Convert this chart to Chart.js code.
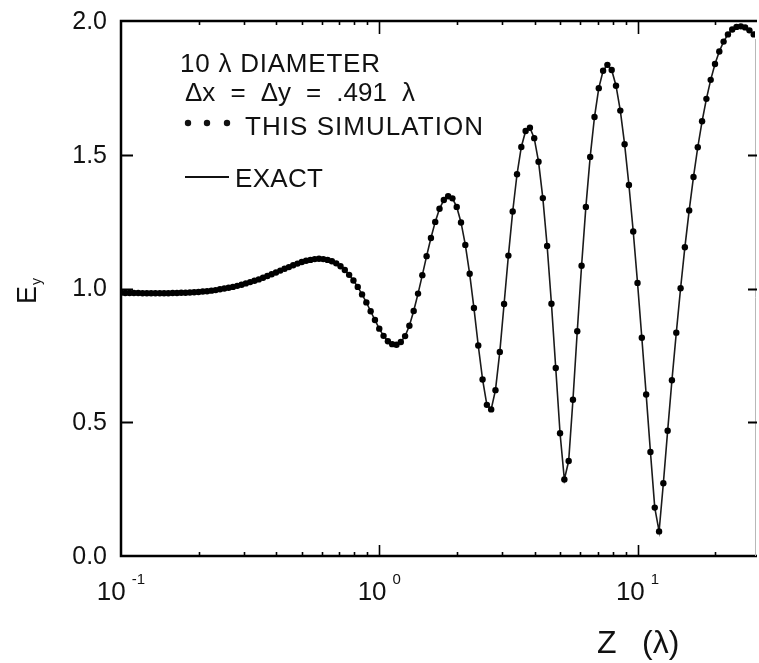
<!DOCTYPE html>
<html>
<head>
<meta charset="utf-8">
<script src="https://cdn.jsdelivr.net/npm/chart.js@4.4.1/dist/chart.umd.min.js"></script>
<style>
  html, body { margin: 0; padding: 0; background: #fff; }
  canvas { display: block; }
</style>
</head>
<body>
<canvas id="ey_canvas" width="759" height="663" style="width:759px;height:663px"></canvas>
<script>
// distance along the axis, Z (in wavelengths), one array per decade
const zTenths = [0.1000, 0.1039, 0.1080, 0.1122, 0.1166, 0.1212, 0.1259, 0.1308, 0.1359, 0.1413,
  0.1468, 0.1525, 0.1585, 0.1647, 0.1711, 0.1778, 0.1848, 0.1920, 0.1995, 0.2073,
  0.2154, 0.2239, 0.2326, 0.2417, 0.2512, 0.2610, 0.2712, 0.2818, 0.2929, 0.3043,
  0.3162, 0.3286, 0.3415, 0.3548, 0.3687, 0.3831, 0.3981, 0.4137, 0.4299, 0.4467,
  0.4642, 0.4823, 0.5012, 0.5208, 0.5412, 0.5623, 0.5843, 0.6072, 0.6310, 0.6556,
  0.6813, 0.7079, 0.7356, 0.7644, 0.7943, 0.8254, 0.8577, 0.8913, 0.9261, 0.9624];
const zUnits = [1.000, 1.039, 1.080, 1.122, 1.166, 1.212, 1.259, 1.308, 1.359, 1.413,
  1.468, 1.525, 1.585, 1.647, 1.711, 1.778, 1.848, 1.920, 1.995, 2.073,
  2.154, 2.239, 2.326, 2.417, 2.512, 2.610, 2.712, 2.818, 2.929, 3.043,
  3.162, 3.286, 3.415, 3.548, 3.687, 3.831, 3.981, 4.137, 4.299, 4.467,
  4.642, 4.823, 5.012, 5.208, 5.412, 5.623, 5.843, 6.072, 6.310, 6.556,
  6.813, 7.079, 7.356, 7.644, 7.943, 8.254, 8.577, 8.913, 9.261, 9.624];
const zTens = [10.00, 10.39, 10.80, 11.22, 11.66, 12.12, 12.59, 13.08, 13.59, 14.13,
  14.68, 15.25, 15.85, 16.47, 17.11, 17.78, 18.48, 19.20, 19.95, 20.73,
  21.54, 22.39, 23.26, 24.17, 25.12, 26.10, 27.12, 28.18];

// on-axis field Ey at those distances
const eyTenths = [0.984, 0.983, 0.983, 0.983, 0.983, 0.982, 0.982, 0.982, 0.982, 0.982,
  0.982, 0.982, 0.983, 0.983, 0.984, 0.984, 0.985, 0.986, 0.987, 0.989,
  0.990, 0.992, 0.994, 0.997, 1.000, 1.003, 1.006, 1.010, 1.014, 1.019,
  1.024, 1.029, 1.034, 1.040, 1.047, 1.053, 1.060, 1.067, 1.074, 1.080,
  1.087, 1.093, 1.099, 1.104, 1.107, 1.110, 1.111, 1.110, 1.107, 1.102,
  1.094, 1.083, 1.069, 1.051, 1.030, 1.006, 0.978, 0.948, 0.915, 0.882];
const eyUnits = [0.850, 0.823, 0.803, 0.792, 0.790, 0.800, 0.822, 0.861, 0.916, 0.981,
  1.050, 1.121, 1.189, 1.249, 1.298, 1.331, 1.345, 1.337, 1.305, 1.247,
  1.163, 1.055, 0.927, 0.787, 0.660, 0.565, 0.548, 0.620, 0.763, 0.942,
  1.123, 1.288, 1.427, 1.529, 1.589, 1.601, 1.562, 1.474, 1.338, 1.159,
  0.943, 0.703, 0.459, 0.286, 0.355, 0.584, 0.840, 1.085, 1.305, 1.492,
  1.641, 1.749, 1.814, 1.836, 1.817, 1.758, 1.665, 1.539, 1.387, 1.213];
const eyTens = [1.021, 0.816, 0.604, 0.389, 0.181, 0.092, 0.272, 0.468, 0.657, 0.835,
  1.001, 1.154, 1.292, 1.417, 1.528, 1.625, 1.709, 1.780, 1.839, 1.886,
  1.923, 1.950, 1.968, 1.978, 1.980, 1.976, 1.965, 1.950];

const yTicks = [0, 0.5, 1.0, 1.5, 2.0];
const xMajor = [0.1, 1, 10];
const xExp = ['-1', '0', '1'];
const legendLines = ['10 \u03bb DIAMETER', '\u0394x = \u0394y = .491 \u03bb', 'THIS SIMULATION', 'EXACT'];

const zAll = [...zTenths, ...zUnits, ...zTens];
const eyAll = [...eyTenths, ...eyUnits, ...eyTens];
const points = zAll.map((z, i) => ({ x: z, y: eyAll[i] }));

const FONT = '"Liberation Sans", Arial, sans-serif';
const INK = '#111';

// fit a string to a width by adjusting the letter spacing
function spacedText(ctx, str, x, y, w) {
  ctx.letterSpacing = '0px';
  const m = ctx.measureText(str).width;
  const sp = (w - m) / Math.max(1, str.length - 1);
  ctx.letterSpacing = sp.toFixed(2) + 'px';
  ctx.fillText(str, x, y);
  ctx.letterSpacing = '0px';
}

// fit a string to a width by widening only the gaps between words
function wordText(ctx, str, x, y, w) {
  const words = str.split(' ');
  const widths = words.map(s => ctx.measureText(s).width);
  const gap = (w - widths.reduce((a, b) => a + b, 0)) / (words.length - 1);
  let cx = x;
  words.forEach((s, i) => { ctx.fillText(s, cx, y); cx += widths[i] + gap; });
}

const framePlugin = {
  id: 'frame',
  afterDatasetsDraw(chart) {
    const { ctx, chartArea: a, scales: { x, y } } = chart;
    ctx.save();

    // box: heavy left / bottom / top, faint right edge
    ctx.strokeStyle = '#000';
    ctx.lineWidth = 2.5;
    ctx.beginPath();
    ctx.moveTo(a.right + 2, a.top);
    ctx.lineTo(a.left, a.top);
    ctx.lineTo(a.left, a.bottom);
    ctx.lineTo(a.right + 2, a.bottom);
    ctx.stroke();
    ctx.lineWidth = 1;
    ctx.strokeStyle = '#b8b8b8';
    ctx.beginPath();
    ctx.moveTo(a.right + 0.5, a.top + 18);
    ctx.lineTo(a.right + 0.5, a.bottom);
    ctx.stroke();

    // inward y ticks on both sides
    ctx.strokeStyle = '#000';
    ctx.lineWidth = 1.8;
    ctx.beginPath();
    yTicks.slice(1, -1).forEach(v => {
      const py = Math.round(y.getPixelForValue(v)) + 0.5;
      ctx.moveTo(a.left, py); ctx.lineTo(a.left + 12, py);
      ctx.moveTo(a.right + 2, py); ctx.lineTo(a.right - 7, py);
    });
    ctx.stroke();

    // log ticks on bottom and top, pointing in
    ctx.lineWidth = 1.6;
    ctx.beginPath();
    xMajor.forEach(dec => {
      for (let m = 1; m <= 9; m++) {
        const v = dec * m;
        if (v <= x.min || v > x.max) continue;
        const px = Math.round(x.getPixelForValue(v)) + 0.5;
        const len = m === 1 ? 11 : 4;
        ctx.moveTo(px, a.bottom); ctx.lineTo(px, a.bottom - len);
        ctx.moveTo(px, a.top); ctx.lineTo(px, a.top + len + (m === 1 ? 2 : 0));
      }
    });
    ctx.stroke();

    // y tick labels
    ctx.fillStyle = INK;
    ctx.font = '25px ' + FONT;
    ctx.textAlign = 'right';
    ctx.textBaseline = 'middle';
    yTicks.forEach(v => ctx.fillText(v.toFixed(1), a.left - 14, y.getPixelForValue(v) + 1));

    // x tick labels as powers of ten
    ctx.textAlign = 'left';
    ctx.textBaseline = 'alphabetic';
    xMajor.forEach((v, i) => {
      const px = x.getPixelForValue(v);
      ctx.font = '26px ' + FONT;
      const w1 = ctx.measureText('10').width;
      ctx.font = '15px ' + FONT;
      const w2 = ctx.measureText(xExp[i]).width;
      const x0 = px - (w1 + 6 + w2) / 2;
      ctx.font = '26px ' + FONT;
      ctx.fillText('10', x0, a.bottom + 44);
      ctx.font = '15px ' + FONT;
      ctx.fillText(xExp[i], x0 + w1 + 6, a.bottom + 28);
    });

    // axis titles
    ctx.font = '32px ' + FONT;
    ctx.fillText('Z', 597, 653);
    ctx.fillText('(\u03bb)', 642, 653);

    ctx.save();
    ctx.translate(36, 304);
    ctx.rotate(-Math.PI / 2);
    ctx.font = '27px ' + FONT;
    ctx.fillText('E', 0, 0);
    ctx.font = '14px ' + FONT;
    ctx.fillText('y', 19, 5);
    ctx.restore();

    // key
    ctx.font = '26px ' + FONT;
    spacedText(ctx, legendLines[0], 180, 72, 200);
    wordText(ctx, legendLines[1], 185, 101, 230);
    spacedText(ctx, legendLines[2], 245, 135, 238);
    spacedText(ctx, legendLines[3], 235, 187, 88);
    [188, 207, 227].forEach(cx => {
      ctx.beginPath();
      ctx.arc(cx, 123, 3.2, 0, Math.PI * 2);
      ctx.fill();
    });
    ctx.strokeStyle = INK;
    ctx.lineWidth = 2;
    ctx.beginPath();
    ctx.moveTo(185, 177);
    ctx.lineTo(229, 177);
    ctx.stroke();

    ctx.restore();
  }
};

new Chart(document.getElementById('ey_canvas'), {
  type: 'line',
  data: {
    datasets: [
      {
        label: 'This simulation',
        data: points,
        showLine: false,
        pointRadius: 3.2,
        pointBorderWidth: 0,
        pointBackgroundColor: '#000',
        pointStyle: 'circle'
      },
      {
        label: 'Exact',
        data: points,
        borderColor: '#1a1a1a',
        borderWidth: 1.6,
        pointRadius: 0,
        tension: 0
      }
    ]
  },
  options: {
    responsive: false,
    devicePixelRatio: 1,
    animation: false,
    layout: { padding: { left: 121, top: 21, right: 2, bottom: 107 } },
    plugins: { legend: { display: false }, tooltip: { enabled: false } },
    scales: {
      x: { type: 'logarithmic', min: 0.1, max: 28.5, display: false },
      y: { type: 'linear', min: 0, max: 2, display: false }
    }
  },
  plugins: [framePlugin]
});
</script>
</body>
</html>
